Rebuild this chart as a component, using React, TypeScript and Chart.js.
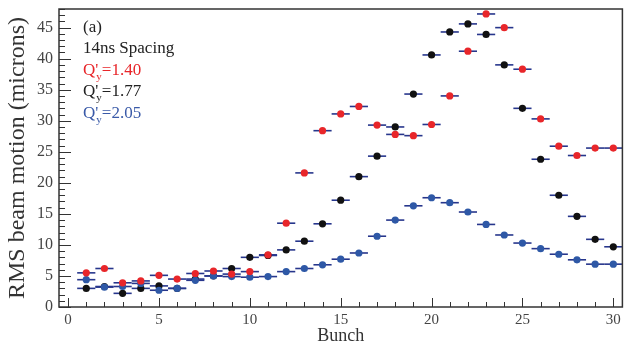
import { useEffect, useRef } from 'react';
import { Chart, registerables } from 'chart.js';

Chart.register(...registerables);

const bunches = [1, 2, 3, 4, 5, 6, 7, 8, 9, 10, 11, 12, 13, 14, 15, 16, 17, 18, 19, 20, 21, 22, 23, 24, 25, 26, 27, 28, 29, 30];
const rmsQ140 = [5.5, 6.2, 3.9, 4.2, 5.1, 4.5, 5.4, 5.8, 5.3, 5.7, 8.4, 13.5, 21.6, 28.4, 31.1, 32.3, 29.3, 27.8, 27.6, 29.4, 34.0, 41.2, 47.2, 45.0, 38.3, 30.3, 25.9, 24.4, 25.6, 25.6];
const rmsQ177 = [3.0, 3.3, 2.2, 3.0, 3.4, 3.0, 4.5, 5.0, 6.2, 8.0, 8.3, 9.2, 10.6, 13.4, 17.2, 21.0, 24.3, 29.0, 34.3, 40.6, 44.3, 45.6, 43.9, 39.0, 32.0, 23.8, 18.0, 14.6, 10.9, 9.7];
const rmsQ205 = [4.4, 3.2, 3.3, 3.8, 2.7, 3.0, 4.3, 5.0, 4.9, 4.8, 4.9, 5.7, 6.2, 6.8, 7.7, 8.7, 11.4, 14.0, 16.3, 17.6, 16.8, 15.3, 13.3, 11.6, 10.3, 9.4, 8.5, 7.6, 6.9, 6.9];
const xTickValues = [0, 5, 10, 15, 20, 25, 30];
const yTickValues = [0, 5, 10, 15, 20, 25, 30, 35, 40, 45];
const binHalfWidth = 0.5;

const seriesLabels = ['1.40', '1.77', '2.05'];
const seriesColors = ['#e8262a', '#111111', '#2e58a6'];
const textColors = ['#e8262a', '#222222', '#3a5aa8'];
const errorBarColor = '#27368c';
const serif = '"Liberation Serif", "DejaVu Serif", serif';

const errorBarPlugin = {
  id: 'errorBars',
  beforeDatasetsDraw(chart: any) {
    const { ctx, scales } = chart;
    const xs = scales.x;
    const ys = scales.y;
    ctx.save();
    ctx.strokeStyle = errorBarColor;
    ctx.lineWidth = 1.6;
    chart.data.datasets.forEach((ds: any) => {
      ds.data.forEach((p: any) => {
        const y = ys.getPixelForValue(p.y);
        ctx.beginPath();
        ctx.moveTo(xs.getPixelForValue(p.x - binHalfWidth), y);
        ctx.lineTo(xs.getPixelForValue(p.x + binHalfWidth), y);
        ctx.stroke();
      });
    });
    ctx.restore();
  },
};

const framePlugin = {
  id: 'frameTicks',
  afterDatasetsDraw(chart: any) {
    const { ctx, chartArea, scales } = chart;
    const xs = scales.x;
    const ys = scales.y;
    ctx.save();
    ctx.strokeStyle = '#333';
    ctx.lineWidth = 1;
    for (let v = Math.ceil(xs.min); v <= Math.floor(xs.max); v++) {
      const px = Math.round(xs.getPixelForValue(v)) + 0.5;
      const len = v % 5 === 0 ? 9 : 5;
      ctx.beginPath();
      ctx.moveTo(px, chartArea.bottom);
      ctx.lineTo(px, chartArea.bottom - len);
      ctx.stroke();
    }
    for (let v = Math.ceil(ys.min); v <= Math.floor(ys.max); v++) {
      const py = Math.round(ys.getPixelForValue(v)) + 0.5;
      const len = v % 5 === 0 ? 12 : 6;
      ctx.beginPath();
      ctx.moveTo(chartArea.left, py);
      ctx.lineTo(chartArea.left + len, py);
      ctx.stroke();
    }
    ctx.lineWidth = 1.5;
    ctx.strokeRect(chartArea.left, chartArea.top, chartArea.right - chartArea.left, chartArea.bottom - chartArea.top);

    const x0 = chartArea.left + 24;
    let base = chartArea.top + 22.5;
    ctx.textBaseline = 'alphabetic';
    ctx.textAlign = 'left';
    ctx.font = `17px ${serif}`;
    ctx.fillStyle = '#222';
    ctx.fillText('(a)', x0, base);
    base += 21.5;
    ctx.fillText('14ns Spacing', x0, base);
    seriesLabels.forEach((lab, i) => {
      base += 21.5;
      ctx.fillStyle = textColors[i];
      ctx.font = `17px ${serif}`;
      const q = "Q'";
      ctx.fillText(q, x0, base);
      const w = ctx.measureText(q).width;
      ctx.font = `11px ${serif}`;
      ctx.fillText('y', x0 + w - 2, base + 5);
      const yw = ctx.measureText('y').width;
      ctx.font = `17px ${serif}`;
      ctx.fillText('=' + lab, x0 + w - 2 + yw, base);
    });
    ctx.restore();
  },
};

export default function App() {
  const ref = useRef<HTMLCanvasElement>(null);
  useEffect(() => {
    document.body.style.margin = '0';
    const order = [0, 2, 1];
    const values = [rmsQ140, rmsQ177, rmsQ205];
    const datasets = order.map((idx) => ({
      label: seriesLabels[idx],
      data: bunches.map((b, i) => ({ x: b, y: values[idx][i] })),
      backgroundColor: seriesColors[idx],
      borderColor: seriesColors[idx],
      borderWidth: 0,
      pointRadius: 3.6,
      pointHoverRadius: 3.6,
      showLine: false,
    }));
    const chart = new Chart(ref.current!, {
      type: 'scatter',
      data: { datasets },
      options: {
        animation: false,
        responsive: false,
        layout: { padding: { top: 9, right: 1, left: 0, bottom: 0 } },
        plugins: { legend: { display: false }, tooltip: { enabled: false } },
        scales: {
          x: {
            type: 'linear',
            min: -0.5,
            max: 30.5,
            grid: { display: false, drawTicks: false },
            border: { display: false },
            afterBuildTicks: (s: any) => { s.ticks = xTickValues.map((v) => ({ value: v })); },
            afterFit: (s: any) => { s.height = 38; s.paddingLeft = 0; s.paddingRight = 0; },
            ticks: { font: { family: serif, size: 15 }, color: '#444', padding: 4, maxRotation: 0 },
            title: { display: true, text: 'Bunch', font: { family: serif, size: 18, lineHeight: 1 }, color: '#333', padding: { top: 0, bottom: 0 } },
          },
          y: {
            type: 'linear',
            min: 0,
            max: 48,
            grid: { display: false, drawTicks: false },
            border: { display: false },
            afterBuildTicks: (s: any) => { s.ticks = yTickValues.map((v) => ({ value: v })); },
            afterFit: (s: any) => { s.width = 59; s.paddingTop = 0; s.paddingBottom = 0; },
            ticks: { font: { family: serif, size: 16 }, color: '#444', padding: 6 },
            title: { display: true, text: 'RMS beam motion (microns)', font: { family: serif, size: 24, lineHeight: 1 }, color: '#333', padding: { top: 6, bottom: 0 } },
          },
        },
      },
      plugins: [errorBarPlugin, framePlugin],
    });
    return () => chart.destroy();
  }, []);
  return (
    <div style={{ width: 626, height: 345 }}>
      <canvas ref={ref} width={626} height={345} />
    </div>
  );
}
